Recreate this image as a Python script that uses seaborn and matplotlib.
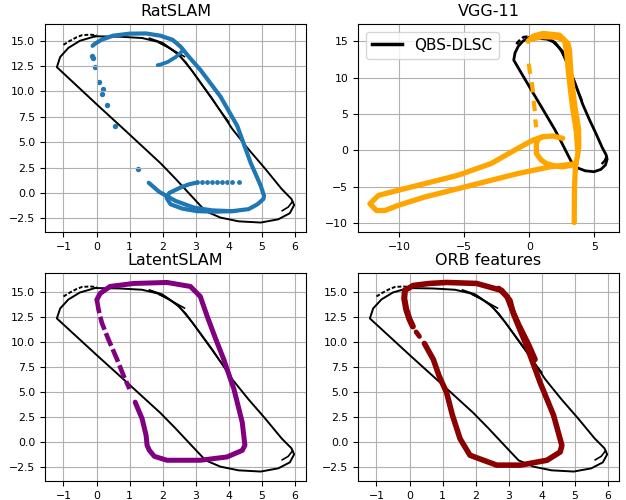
import matplotlib
matplotlib.use("Agg")
import matplotlib.pyplot as plt
import seaborn as sns

# ---------------- ground truth (QBS-DLSC) ----------------
gt_x = [-0.04, 0.7, 1.38, 1.85, 2.15, 2.5, 2.9, 3.5, 4.11, 4.6, 5.1, 5.6, 5.9, 5.98, 5.85,
        5.5, 4.97, 4.3, 3.75, 3.3, 2.9, 2.39, 1.93, 0.87, 0.0, -1.2, -1.1,
        -0.85, -0.5, -0.04]
gt_y = [15.44, 15.4, 15.27, 14.9, 14.4, 13.6, 12.0, 9.3, 6.3, 4.3, 2.4, 0.4, -0.6, -1.2, -2.0,
        -2.6, -2.92, -2.8, -2.43, -1.8, -0.4, 1.4, 2.95, 6.15, 8.75, 12.4, 13.4,
        14.3, 15.0, 15.44]
gt2_x = [1.6, 2.0, 2.35, 2.7, 3.2, 3.7, 4.0]
gt2_y = [15.25, 14.8, 14.0, 12.9, 10.6, 8.3, 7.0]
gt_spur_x = [1.9, 2.3, 2.66]
gt_spur_y = [14.8, 14.1, 13.44]
gt_start_x = [-1.0, -0.8, -0.6, -0.44, -0.2, 0.0]
gt_start_y = [14.6, 15.0, 15.35, 15.55, 15.6, 15.55]
gt_end_x = [5.62, 5.8, 5.93]
gt_end_y = [-1.75, -1.4, -0.85]

# ---------------- RatSLAM ----------------
rat_x = [1.58, 1.9, 2.4, 2.95, 3.5, 4.1, 4.6, 4.87, 5.05, 5.07, 4.97, 4.66, 4.26, 3.75, 3.15,
         2.8, 2.55, 2.3, 1.93, 1.5, 1.0, 0.5, 0.15, -0.05, -0.12]
rat_y = [1.0, 0.1, -0.8, -1.45, -1.72, -1.8, -1.6, -1.12, -0.6, -0.3, 0.7, 3.0, 6.6, 9.5, 12.1,
         13.4, 14.4, 15.1, 15.5, 15.72, 15.7, 15.5, 15.1, 14.7, 14.5]
rat_loop_x = [4.2, 3.6, 3.05, 2.6, 2.24, 2.12, 2.2, 2.54, 2.8, 3.05]
rat_loop_y = [-1.78, -1.85, -1.8, -1.55, -1.12, -0.5, 0.0, 0.53, 0.85, 1.03]
rat_hook_x = [2.6, 2.4, 2.15, 1.93, 1.85]
rat_hook_y = [14.0, 13.4, 12.9, 12.65, 12.6]
rat_dash_x = [3.05, 3.2, 3.35, 3.5, 3.65, 3.8, 3.95, 4.1, 4.3]
rat_dash_y = [1.03, 1.05, 1.05, 1.05, 1.05, 1.06, 1.06, 1.07, 1.07]
rat_dot_x = [-0.14, -0.12, -0.06, 0.06, 0.21, 0.18, 0.32, 0.57, 1.25]
rat_dot_y = [13.46, 13.3, 12.38, 10.9, 10.24, 9.77, 8.69, 6.61, 2.4]

# ---------------- VGG-11 ----------------
vgg_top_x = [-0.1, 0.3, 1.04, 2.32, 2.96, 3.09, 3.2, 3.5, 3.78, 3.8, 3.7, 3.55, 3.47, 3.45]
vgg_top_y = [15.0, 15.7, 16.06, 15.83, 14.7, 13.76, 10.5, 6.0, 3.0, 0.5, -0.8, -2.0, -5.0, -9.9]
vgg_in_x = [0.0, 1.0, 2.2, 2.7, 2.85, 3.0, 3.3, 3.6, 3.7]
vgg_in_y = [15.2, 15.6, 15.5, 15.0, 13.5, 10.5, 6.0, 2.5, 0.0]
vgg_loop_x = [2.57, 1.81, 1.04, 0.28, -0.9, -2.94, -5.49, -8.05, -10.1, -11.6, -12.26, -11.75,
              -11.1, -10.1, -8.05, -5.49, -2.94, -0.9, 1.56, 2.8, 3.6]
vgg_loop_y = [1.66, 1.98, 1.88, 1.42, 0.27, -1.8, -3.41, -4.56, -5.48, -6.17, -7.32, -8.25,
              -8.25, -7.55, -6.4, -5.25, -4.1, -3.18, -2.26, -2.0, -1.8]
vgg_small_x = [1.04, 0.7, 0.54, 0.54, 0.9, 1.3, 2.0, 2.57, 3.2, 3.6]
vgg_small_y = [1.88, 1.6, 0.97, -0.42, -1.3, -1.8, -2.15, -2.26, -2.05, -1.8]
vgg_dash_x = [-0.05, 0.02, 0.15, 0.28, 0.33, 0.43, 0.48, 0.53]
vgg_dash_y = [11.92, 11.0, 9.85, 8.0, 6.85, 5.25, 3.87, 3.17]

# ---------------- LatentSLAM ----------------
lat_x = [0.01, 0.11, 0.41, 1.12, 2.13, 2.84, 3.14, 3.35, 3.6, 3.85, 4.16, 4.41, 4.49, 4.41,
         3.95, 3.14, 2.13, 1.75, 1.6, 1.53, 1.5, 1.38, 1.17]
lat_y = [14.28, 14.9, 15.6, 15.9, 16.0, 15.6, 14.6, 12.6, 10.4, 8.3, 5.3, 2.0, -0.3, -0.8,
         -1.46, -1.79, -1.79, -1.4, -0.8, -0.3, 0.7, 2.36, 4.02]
lat_dash_x = [0.01, 0.06, 0.16, 0.36, 0.62, 0.82, 1.0]
lat_dash_y = [14.28, 13.3, 11.97, 10.3, 8.32, 6.66, 5.34]

# ---------------- ORB features ----------------
orb_x = [-0.14, 0.11, 0.6, 1.12, 2.03, 2.79, 3.04, 3.14, 3.35, 3.55, 3.75, 3.95, 4.36, 4.61,
         4.56, 4.16, 3.35, 2.64, 1.83, 1.53, 1.3, 1.12, 0.9, 0.72, 0.45]
orb_y = [15.2, 15.7, 15.9, 16.0, 15.9, 15.2, 14.2, 12.9, 11.2, 9.6, 7.8, 6.0, 2.7, -0.3,
         -0.96, -1.79, -2.28, -2.28, -1.29, 0.36, 2.7, 5.0, 6.6, 8.3, 9.9]
orb_in_x = [2.7, 2.95, 3.1, 3.3, 3.6, 3.8]
orb_in_y = [15.4, 14.6, 13.3, 11.8, 9.8, 8.3]
orb_up_x = [-0.14, -0.16, -0.1, 0.0, 0.1]
orb_up_y = [15.2, 14.4, 13.3, 12.3, 11.6]
orb_dash_x = [0.3, 0.2]
orb_dash_y = [10.6, 11.05]

BLUE = "#1f77b4"
ORANGE = "#ffa500"
PURPLE = "#800080"
RED = "#8b0000"

plt.style.use("default")
fig = plt.figure(figsize=(6.26, 5.0), dpi=100)
W, H = 626, 500
boxes = [(45, 24, 306, 232), (358, 24, 619, 232), (45, 273, 306, 481), (358, 273, 619, 481)]
axes = []
for (l, t, r, b) in boxes:
    ax = fig.add_axes([l / W, 1 - b / H, (r - l) / W, (b - t) / H])
    axes.append(ax)


def line(ax, x, y, color, lw, **kw):
    sns.lineplot(x=x, y=y, sort=False, estimator=None, color=color, lw=lw, ax=ax, **kw)


def draw_gt(ax, lw=1.4, label=None):
    line(ax, gt_x, gt_y, "black", lw, label=label)
    line(ax, gt2_x, gt2_y, "black", lw * 0.85)
    line(ax, gt_spur_x, gt_spur_y, "black", lw * 0.85)
    line(ax, gt_start_x, gt_start_y, "black", lw, linestyle=(0, (2, 1)))
    line(ax, gt_end_x, gt_end_y, "black", lw * 0.85)


titles = ["RatSLAM", "VGG-11", "LatentSLAM", "ORB features"]

# RatSLAM
ax = axes[0]
draw_gt(ax)
line(ax, rat_x, rat_y, BLUE, 3.0, solid_capstyle="round")
line(ax, rat_loop_x, rat_loop_y, BLUE, 3.0, solid_capstyle="round")
line(ax, rat_hook_x, rat_hook_y, BLUE, 2.7, solid_capstyle="round")
sns.scatterplot(x=rat_dash_x, y=rat_dash_y, color=BLUE, s=12, linewidth=0, ax=ax)
sns.scatterplot(x=rat_dot_x, y=rat_dot_y, color=BLUE, s=15, linewidth=0, ax=ax)

# VGG-11
ax = axes[1]
draw_gt(ax, lw=2.0, label="QBS-DLSC")
line(ax, vgg_top_x, vgg_top_y, ORANGE, 3.8, solid_capstyle="round")
line(ax, vgg_in_x, vgg_in_y, ORANGE, 3.5, solid_capstyle="round")
line(ax, vgg_loop_x, vgg_loop_y, ORANGE, 3.8, solid_capstyle="round")
line(ax, vgg_small_x, vgg_small_y, ORANGE, 3.8, solid_capstyle="round")
line(ax, vgg_dash_x, vgg_dash_y, ORANGE, 3.0, linestyle=(0, (2.5, 2.0)))
leg = ax.legend(loc="upper left", fontsize=11, handlelength=2.0)
for h in leg.get_lines():
    h.set_linewidth(2.5)

# LatentSLAM
ax = axes[2]
draw_gt(ax)
line(ax, lat_x, lat_y, PURPLE, 3.6, solid_capstyle="round")
line(ax, lat_dash_x, lat_dash_y, PURPLE, 3.3, linestyle=(0, (3.0, 0.8)))

# ORB features
ax = axes[3]
draw_gt(ax)
line(ax, orb_x, orb_y, RED, 4.0, solid_capstyle="round")
line(ax, orb_in_x, orb_in_y, RED, 4.0, solid_capstyle="round")
line(ax, orb_up_x, orb_up_y, RED, 4.4, solid_capstyle="round")
line(ax, orb_dash_x, orb_dash_y, RED, 3.5, solid_capstyle="round")

for ax, t in zip(axes, titles):
    ax.set_title(t, fontsize=11.5)
    ax.grid(True, color="#b0b0b0", lw=0.8)
    ax.tick_params(labelsize=7.8)
    ax.set_xlabel("")
    ax.set_ylabel("")
    if ax is not axes[1] and ax.get_legend() is not None:
        ax.get_legend().remove()

fig.savefig("out.png", dpi=100)
